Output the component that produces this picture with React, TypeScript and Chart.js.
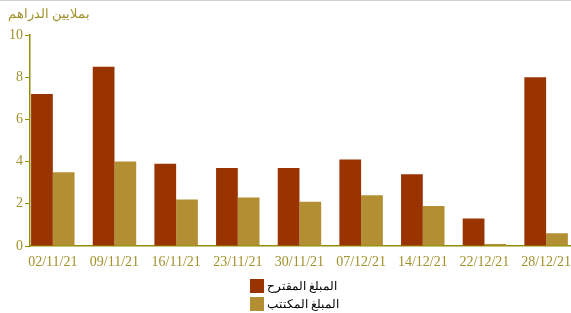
import React, { useEffect, useRef } from "react";
import { Chart, registerables } from "chart.js";

Chart.register(...registerables);

const categories = ["02/11/21", "09/11/21", "16/11/21", "23/11/21", "30/11/21", "07/12/21", "14/12/21", "22/12/21", "28/12/21"];
const proposed = [7.2, 8.5, 3.9, 3.7, 3.7, 4.1, 3.4, 1.3, 8.0];
const subscribed = [3.5, 4.0, 2.2, 2.3, 2.1, 2.4, 1.9, 0.1, 0.6];
const seriesNames = ["المبلغ المقترح", "المبلغ المكتتب"];
const seriesColors = ["#993300", "#b38f33"];
const yTicks = [0, 2, 4, 6, 8, 10];
const unitTitle = "بملايين الدراهم";

const AXIS = "#8f8f00";
const LABEL = "#a0902a";
const FONT = "'Liberation Serif', 'DejaVu Serif', serif";

export default function App() {
  const ref = useRef<HTMLCanvasElement | null>(null);

  useEffect(() => {
    document.body.style.margin = "0";
    const ctx = ref.current!;
    const chart = new Chart(ctx, {
      type: "bar",
      data: {
        datasets: [
          {
            label: seriesNames[0],
            data: proposed.map((v, i) => ({ x: i, y: v })),
            backgroundColor: seriesColors[0],
            borderWidth: 0,
          },
          {
            label: seriesNames[1],
            data: subscribed.map((v, i) => ({ x: i, y: v })),
            backgroundColor: seriesColors[1],
            borderWidth: 0,
          },
        ],
      },
      options: {
        animation: false,
        responsive: false,
        maintainAspectRatio: false,
        layout: { padding: { left: 0, right: 0, top: 34, bottom: 0 } },
        datasets: { bar: { categoryPercentage: 0.705, barPercentage: 1 } },
        plugins: {
          legend: { display: false },
          tooltip: { enabled: false },
          title: { display: false },
        },
        scales: {
          x: {
            type: "linear",
            offset: false,
            min: -0.37,
            max: 8.4,
            grid: { display: true, drawOnChartArea: false, drawTicks: true, tickLength: 8, color: "rgba(0,0,0,0)", offset: false },
            border: { display: true, color: AXIS, width: 1.5 },
            afterFit: (s: any) => {
              s.height = 67;
            },
            ticks: {
              stepSize: 1,
              autoSkip: false,
              includeBounds: false,
              maxRotation: 0,
              padding: 0,
              color: LABEL,
              font: { family: FONT, size: 14 },
              callback: (v: any) => (Number.isInteger(v) && categories[v] !== undefined ? categories[v] : ""),
            },
          },
          y: {
            min: 0,
            max: 10,
            afterBuildTicks: (s: any) => {
              s.ticks = yTicks.map((v) => ({ value: v }));
            },
            afterFit: (s: any) => {
              s.width = 30;
            },
            grid: { display: true, drawOnChartArea: false, drawTicks: true, tickLength: 5, color: AXIS, lineWidth: 1 },
            border: { display: true, color: AXIS, width: 1.5 },
            ticks: {
              padding: 2,
              color: LABEL,
              font: { family: FONT, size: 14 },
            },
          },
        },
      },
    });
    return () => chart.destroy();
  }, []);

  return (
    <div style={{ position: "relative", width: 571, height: 313, borderTop: "1px solid #d0d0d0", boxSizing: "border-box", background: "#fff" }}>
      <canvas ref={ref} width={571} height={312} style={{ display: "block" }} />
      <div style={{ position: "absolute", left: 8, top: 5, fontFamily: FONT, fontSize: 13, color: LABEL, whiteSpace: "nowrap" }}>
        {unitTitle}
      </div>
      <div style={{ position: "absolute", left: 250, top: 276, fontFamily: FONT, fontSize: 12, color: "#000" }}>
        {seriesNames.map((n, i) => (
          <div key={n} style={{ display: "flex", alignItems: "center", height: 18 }}>
            <span style={{ display: "inline-block", width: 14, height: 14, background: seriesColors[i], marginRight: 3 }} />
            <span>{n}</span>
          </div>
        ))}
      </div>
    </div>
  );
}
